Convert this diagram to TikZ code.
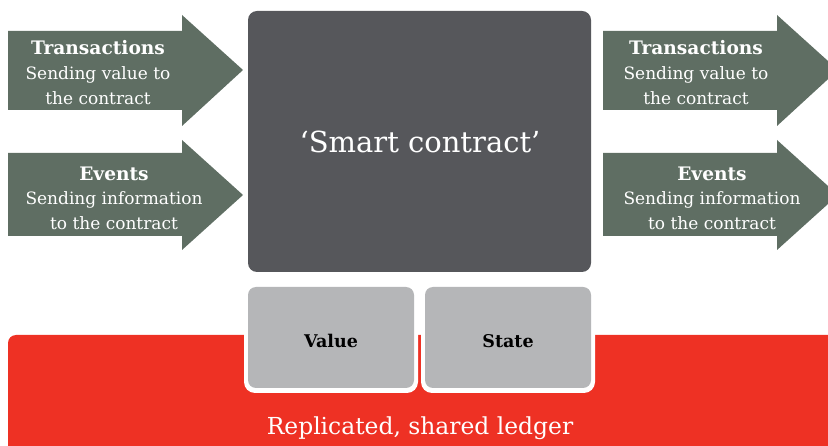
\documentclass[tikz,border=0pt]{standalone}
\usepackage{fontspec}
\setmainfont{DejaVu Serif}
\definecolor{arrowgreen}{HTML}{5F6E63}
\definecolor{darkbox}{HTML}{56575B}
\definecolor{lightbox}{HTML}{B5B6B8}
\definecolor{ledgerred}{HTML}{EE3124}
\tikzset{
  arrowtitle/.style={text=white,font=\bfseries\fontsize{18.6}{22}\selectfont,inner sep=0pt,anchor=base},
  arrowsub/.style={text=white,font=\fontsize{17}{20}\selectfont,inner sep=0pt,anchor=base},
  subbox/.style={fill=lightbox,rounded corners=8pt},
  subtext/.style={text=black,font=\bfseries\fontsize{17.5}{21}\selectfont,inner sep=0pt,anchor=base},
}
\begin{document}
\begin{tikzpicture}[x=1pt,y=-1pt]
\useasboundingbox (0,0) rectangle (828,446);
\clip (0,0) rectangle (828,446);
% ledger
\fill[ledgerred,rounded corners=8pt] (8,335) rectangle (840,460);
\node[text=white,font=\fontsize{23.4}{28}\selectfont,inner sep=0pt,anchor=base] (ledger) at (420,435) {Replicated, shared ledger};
% smart contract
\fill[darkbox,rounded corners=9pt] (248,11) rectangle (591,272);
\node[text=white,font=\fontsize{29}{34}\selectfont,inner sep=0pt,anchor=base] (sc) at (420,153) {‘Smart contract’};
% value / state
\fill[white,rounded corners=11pt] (244,283) rectangle (418,393);
\fill[white,rounded corners=11pt] (421,283) rectangle (595,393);
\fill[subbox] (248,287) rectangle (414,388);
\fill[subbox] (425,287) rectangle (591,388);
\node[subtext] (value) at (331,348) {Value};
\node[subtext] (state) at (508,348) {State};
% arrows
\foreach \x/\tipx/\bx in {8/243/182, 603/838/777}{
  \fill[arrowgreen] (\x,31) -- (\bx,31) -- (\bx,15) -- (\tipx,70) -- (\bx,126) -- (\bx,110) -- (\x,110) -- cycle;
  \fill[arrowgreen] (\x,153) -- (\bx,153) -- (\bx,140) -- (\tipx,195) -- (\bx,250) -- (\bx,236) -- (\x,236) -- cycle;
}
\node[arrowtitle] (t1) at (98,55) {Transactions};
\node[arrowsub] (t1a) at (98,80) {Sending value to};
\node[arrowsub] (t1b) at (98,105) {the contract};
\node[arrowtitle] (e1) at (114,181) {Events};
\node[arrowsub] (e1a) at (114,205) {Sending information};
\node[arrowsub] (e1b) at (114,230) {to the contract};
\node[arrowtitle] (t2) at (696,55) {Transactions};
\node[arrowsub] (t2a) at (696,80) {Sending value to};
\node[arrowsub] (t2b) at (696,105) {the contract};
\node[arrowtitle] (e2) at (712,181) {Events};
\node[arrowsub] (e2a) at (712,205) {Sending information};
\node[arrowsub] (e2b) at (712,230) {to the contract};
\end{tikzpicture}
\end{document}
